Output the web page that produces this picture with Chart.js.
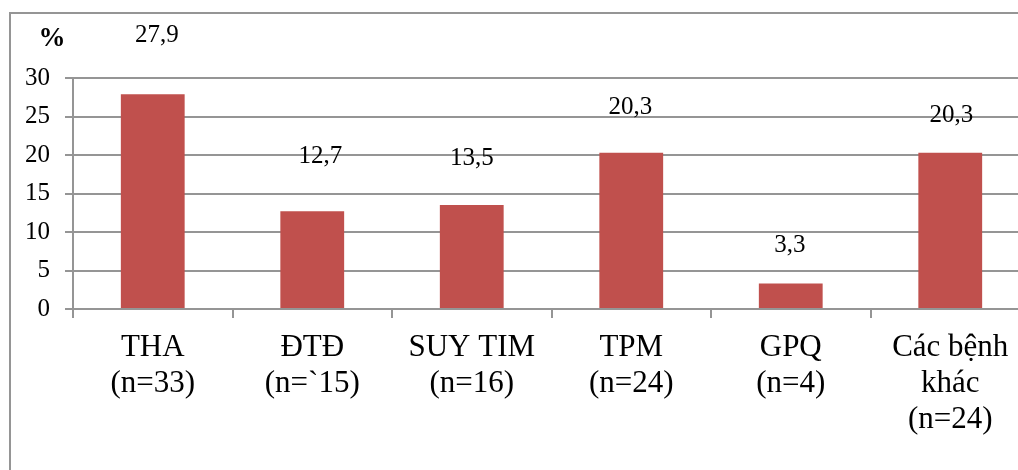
<!DOCTYPE html>
<html>
<head>
<meta charset="utf-8">
<script src="https://cdn.jsdelivr.net/npm/chart.js@4.4.1/dist/chart.umd.min.js"></script>
<style>
  html, body { margin: 0; padding: 0; background: #fff; overflow: hidden; }
  #wrap { width: 1018px; height: 470px; overflow: hidden; position: relative; }
  canvas { display: block; }
  .fontwarm { position: absolute; left: -9999px; top: 0; font-family: 'Liberation Serif'; }
</style>
</head>
<body>
<div id="wrap"><canvas id="chart" width="1040" height="470"></canvas></div>
<span class="fontwarm">THA ĐTĐ Các bệnh 0123456789 %</span>
<span class="fontwarm" style="font-weight:bold">%</span>
<script>
// Disease groups (with patient counts) and their share in percent
const categories = [
  ['THA', '(n=33)'],
  ['ĐTĐ', '(n=`15)'],
  ['SUY TIM', '(n=16)'],
  ['TPM', '(n=24)'],
  ['GPQ', '(n=4)'],
  ['Các bệnh', 'khác', '(n=24)']
];
const percentValues = [27.9, 12.7, 13.5, 20.3, 3.3, 20.3];
const valueLabels = ['27,9', '12,7', '13,5', '20,3', '3,3', '20,3'];
const yTicks = [0, 5, 10, 15, 20, 25, 30];

// Hand placement of each value label relative to the top of its bar (px)
const labelNudge = [
  { dx: 4, dy: -59 },
  { dx: 8, dy: -55 },
  { dx: 0, dy: -47 },
  { dx: -1, dy: -45 },
  { dx: -1, dy: -38 },
  { dx: 1, dy: -37 }
];

const SERIF = "'Liberation Serif', serif";
const GRID = '#959595';

const frameAndLabels = {
  id: 'frameAndLabels',
  beforeDraw(chart) {
    const ctx = chart.ctx;
    ctx.save();
    ctx.strokeStyle = GRID;
    ctx.lineWidth = 2;
    ctx.beginPath();
    ctx.moveTo(10, chart.height + 5);
    ctx.lineTo(10, 13);
    ctx.lineTo(chart.width + 5, 13);
    ctx.stroke();
    ctx.restore();
  },
  afterDatasetsDraw(chart) {
    const ctx = chart.ctx;
    const meta = chart.getDatasetMeta(0);
    ctx.save();
    ctx.fillStyle = '#000';
    ctx.textAlign = 'center';
    ctx.textBaseline = 'middle';
    ctx.font = '25px ' + SERIF;
    meta.data.forEach((bar, i) => {
      const n = labelNudge[i];
      ctx.fillText(valueLabels[i], bar.x + n.dx, bar.y + n.dy);
    });
    // unit marker above the value axis
    ctx.font = 'bold 27px ' + SERIF;
    ctx.fillText('%', chart.chartArea.left - 21, chart.chartArea.top - 39);
    ctx.restore();
  }
};

function drawChart() {
  new Chart(document.getElementById('chart'), {
    type: 'bar',
    data: {
      labels: categories,
      datasets: [{
        data: percentValues,
        backgroundColor: '#C0504D',
        borderWidth: 0,
        barPercentage: 0.4,
        categoryPercentage: 1.0
      }]
    },
    options: {
      responsive: false,
      animation: false,
      devicePixelRatio: 1,
      layout: { padding: { left: 0, top: 78, right: 10, bottom: 0 } },
      plugins: {
        legend: { display: false },
        tooltip: { enabled: false },
        title: { display: false }
      },
      scales: {
        x: {
          offset: true,
          grid: {
            display: true,
            offset: true,
            drawOnChartArea: false,
            drawTicks: true,
            tickLength: 9,
            color: GRID,
            lineWidth: 2
          },
          border: { display: true, color: GRID, width: 2 },
          ticks: {
            color: '#000',
            font: { family: SERIF, size: 31, lineHeight: 1.16 },
            padding: 12,
            maxRotation: 0,
            autoSkip: false
          },
          afterFit(scale) { scale.height = 161; }
        },
        y: {
          min: 0,
          max: 30,
          afterBuildTicks(scale) { scale.ticks = yTicks.map(v => ({ value: v })); },
          grid: {
            color: GRID,
            lineWidth: 2,
            tickLength: 8,
            drawTicks: true
          },
          border: { display: true, color: GRID, width: 2 },
          ticks: {
            color: '#000',
            font: { family: SERIF, size: 25 },
            padding: 15
          },
          afterFit(scale) { scale.width = 73; }
        }
      }
    },
    plugins: [frameAndLabels]
  });
}

// make sure the serif face is ready before the canvas text is laid out
Promise.all([
  document.fonts.load("25px 'Liberation Serif'"),
  document.fonts.load("bold 27px 'Liberation Serif'")
]).then(drawChart, drawChart);
</script>
</body>
</html>
